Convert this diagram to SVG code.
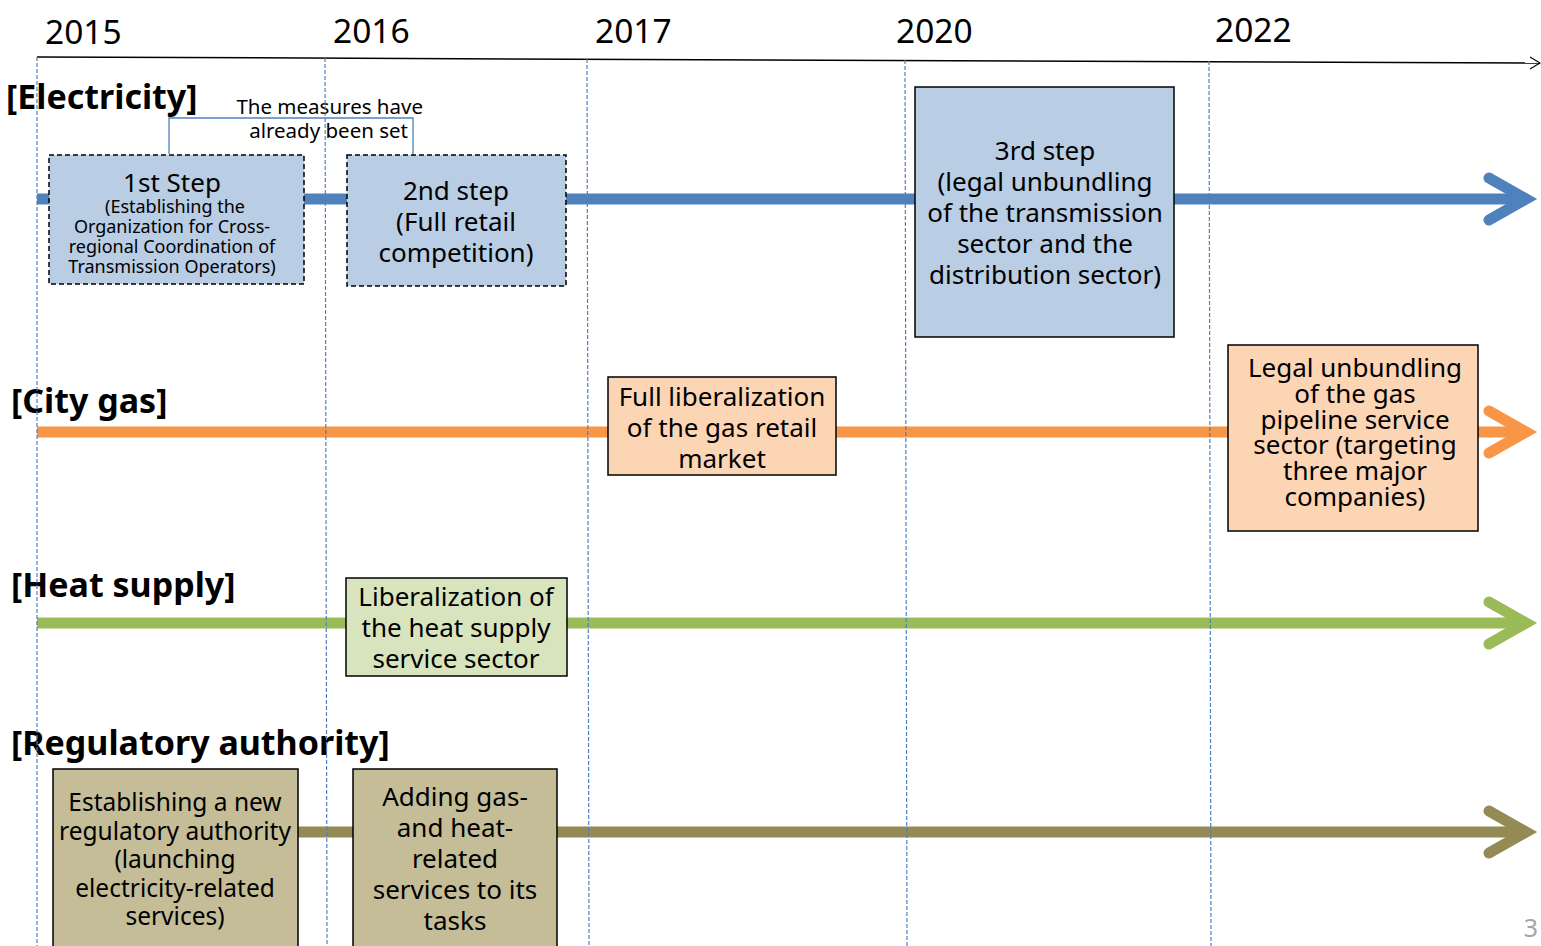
<svg xmlns="http://www.w3.org/2000/svg" width="1541" height="946" viewBox="0 0 1541 946">
<style>
text{font-family:"Noto Sans","DejaVu Sans",sans-serif;fill:#000}
.yr{font-size:33.5px}
.hd{font-size:34px;font-weight:bold}
.t{font-size:26px;text-anchor:middle}
.s{font-size:18px;text-anchor:middle}
.br{font-size:20.5px;text-anchor:end}
.vl{stroke:#4F81BD;stroke-width:1.2;stroke-dasharray:4 2;fill:none}
.lane{fill:none;stroke-width:11;stroke-linecap:butt}
.head{fill:none;stroke-width:11;stroke-linecap:round;stroke-linejoin:miter}
.elec{fill:#B9CDE5;stroke:#000;stroke-width:1.5}
.dash{stroke-dasharray:5 3}
.gas{fill:#FCD5B5;stroke:#000;stroke-width:1.5}
.heat{fill:#D7E4BD;stroke:#000;stroke-width:1.5}
.reg{fill:#C4BD97;stroke:#000;stroke-width:1.5}
</style>
<rect width="1541" height="946" fill="#fff"/>
<g id="axis">
<path d="M37,57 L1540,63" stroke="#000" stroke-width="1.5" fill="none"/>
<path d="M1530,57 L1540,63 L1530,69" stroke="#000" stroke-width="1.2" fill="none"/>
<text class="yr" x="45" y="44">2015</text>
<text class="yr" x="333" y="43">2016</text>
<text class="yr" x="595" y="43">2017</text>
<text class="yr" x="896" y="43">2020</text>
<text class="yr" x="1215" y="42">2022</text>
</g>
<g id="connectors">
<path class="lane" stroke="#4F81BD" d="M37,199 H1520"/>
<path class="head" stroke="#4F81BD" d="M1489,178 L1526,199 L1489,220"/>
<path class="lane" stroke="#F79646" d="M37,432 H1520"/>
<path class="head" stroke="#F79646" d="M1489,411 L1526,432 L1489,453"/>
<path class="lane" stroke="#9BBB59" d="M37,623 H1520"/>
<path class="head" stroke="#9BBB59" d="M1489,602 L1526,623 L1489,644"/>
<path class="lane" stroke="#948A54" d="M298,832 H1520"/>
<path class="head" stroke="#948A54" d="M1489,811 L1526,832 L1489,853"/>
<path d="M169,154 V118 H413 V160" stroke="#4F81BD" stroke-width="1.3" fill="none"/>
</g>
<g id="labels">
<text class="hd" x="6" y="109">[Electricity]</text>
<text class="hd" x="11" y="413">[City gas]</text>
<text class="hd" x="11" y="597">[Heat supply]</text>
<text class="hd" x="11" y="755">[Regulatory authority]</text>
<text class="br" x="423" y="114">The measures have</text>
<text class="br" x="408" y="138">already been set</text>
<text x="1538" y="937" font-size="25" text-anchor="end" style="fill:#A6A6A6">3</text>
</g>
<g id="step1">
<rect class="elec dash" x="49" y="155" width="255" height="129"/>
<text class="t" x="172" y="192">1st Step</text>
<text class="s" x="175" y="213">(Establishing the</text>
<text class="s" x="172" y="233">Organization for Cross-</text>
<text class="s" x="172" y="253">regional Coordination of</text>
<text class="s" x="172" y="273">Transmission Operators)</text>
</g>
<g id="step2">
<rect class="elec dash" x="347" y="155" width="219" height="131"/>
<text class="t" x="456" y="200">2nd step</text>
<text class="t" x="456" y="231">(Full retail</text>
<text class="t" x="456" y="262">competition)</text>
</g>
<g id="step3">
<rect class="elec" x="915" y="87" width="259" height="250"/>
<text class="t" x="1045" y="160">3rd step</text>
<text class="t" x="1045" y="191">(legal unbundling</text>
<text class="t" x="1045" y="222">of the transmission</text>
<text class="t" x="1045" y="253">sector and the</text>
<text class="t" x="1045" y="284">distribution sector)</text>
</g>
<g id="gas1">
<rect class="gas" x="608" y="377" width="228" height="98"/>
<text class="t" x="722" y="406">Full liberalization</text>
<text class="t" x="722" y="437">of the gas retail</text>
<text class="t" x="722" y="468">market</text>
</g>
<g id="gas2">
<rect class="gas" x="1228" y="345" width="250" height="186"/>
<text class="t" x="1355" y="377">Legal unbundling</text>
<text class="t" x="1355" y="403">of the gas</text>
<text class="t" x="1355" y="429">pipeline service</text>
<text class="t" x="1355" y="454">sector (targeting</text>
<text class="t" x="1355" y="480">three major</text>
<text class="t" x="1355" y="506">companies)</text>
</g>
<g id="heat1">
<rect class="heat" x="346" y="578" width="221" height="98"/>
<text class="t" x="456" y="606">Liberalization of</text>
<text class="t" x="456" y="637">the heat supply</text>
<text class="t" x="456" y="668">service sector</text>
</g>
<g id="reg1" style="font-size:24.5px">
<rect class="reg" x="53" y="769" width="245" height="190"/>
<text class="t" x="175" y="811" style="font-size:24.5px">Establishing a new</text>
<text class="t" x="175" y="840" style="font-size:24.5px">regulatory authority</text>
<text class="t" x="175" y="868" style="font-size:24.5px">(launching</text>
<text class="t" x="175" y="897" style="font-size:24.5px">electricity-related</text>
<text class="t" x="175" y="925" style="font-size:24.5px">services)</text>
</g>
<g id="reg2">
<rect class="reg" x="353" y="769" width="204" height="190"/>
<text class="t" x="455" y="806">Adding gas-</text>
<text class="t" x="455" y="837">and heat-</text>
<text class="t" x="455" y="868">related</text>
<text class="t" x="455" y="899">services to its</text>
<text class="t" x="455" y="930">tasks</text>
</g>
<g id="gridlines">
<path class="vl" d="M37,57 V946"/>
<path class="vl" d="M325,58 L327,946"/>
<path class="vl" d="M587,59 L589,946"/>
<path class="vl" d="M905,60 L907,946"/>
<path class="vl" d="M1209,61 L1211,946"/>
</g>
</svg>
